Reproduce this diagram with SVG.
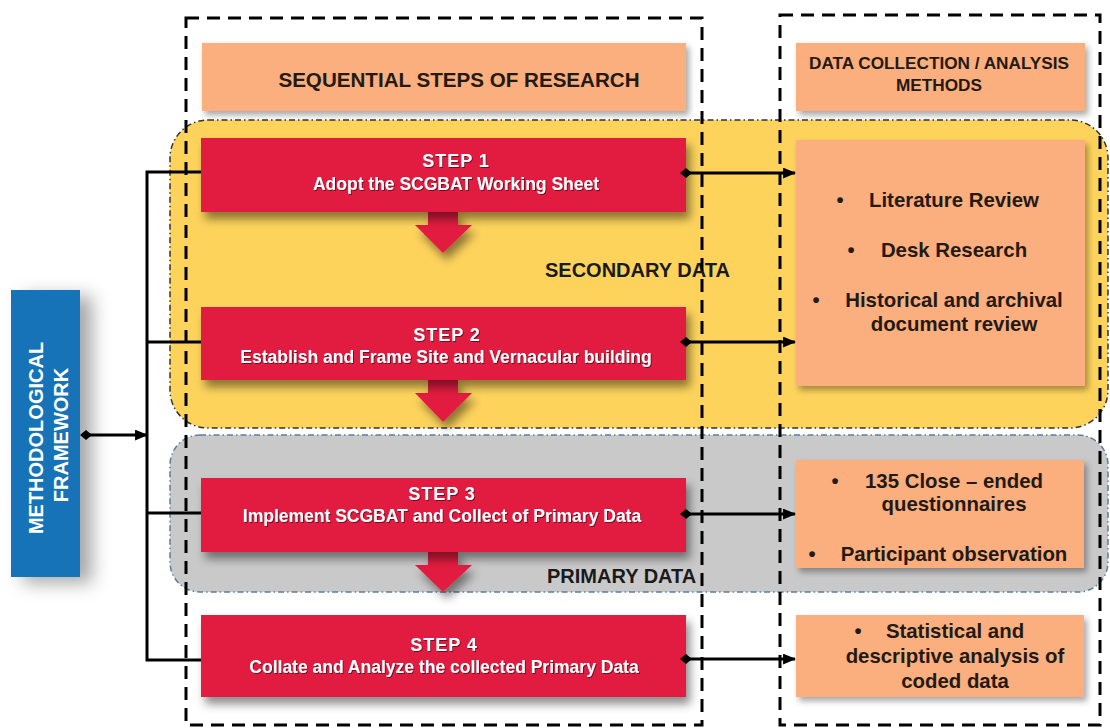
<svg xmlns="http://www.w3.org/2000/svg" width="1110" height="728" viewBox="0 0 1110 728">
<defs>
<style>
.step{fill:#E21D40;filter:url(#sh)}
.hdr{fill:#FBAE7E;filter:url(#sh2)}
.meth{fill:#FBAE7E;filter:url(#sh2)}
.st{font-family:"Liberation Sans",Arial,sans-serif;font-weight:bold;fill:#fff;text-anchor:middle;filter:url(#tsh)}
.sn{font-size:18px;letter-spacing:1px}
.ss{font-size:17.5px}
.dk{font-family:"Liberation Sans",Arial,sans-serif;font-weight:bold;fill:#231A14;text-anchor:middle;font-size:20.4px}
.lbl{font-family:"Liberation Sans",Arial,sans-serif;font-weight:bold;fill:#1a1a1a;font-size:20px}
.col{fill:none;stroke:#000;stroke-width:3;stroke-dasharray:13 8}
.con{fill:none;stroke:#000;stroke-width:3}
.dn{fill:#E21D40;filter:url(#sh)}
</style>
<filter id="sh" x="-10%" y="-20%" width="125%" height="160%"><feDropShadow dx="4" dy="7" stdDeviation="5" flood-color="#000" flood-opacity="0.45"/></filter>
<filter id="sh2" x="-10%" y="-20%" width="125%" height="160%"><feDropShadow dx="3" dy="4" stdDeviation="3" flood-color="#000" flood-opacity="0.35"/></filter>
<filter id="shb" x="-50%" y="-10%" width="250%" height="130%"><feDropShadow dx="12" dy="6" stdDeviation="9" flood-color="#000" flood-opacity="0.35"/></filter>
<filter id="tsh" x="-5%" y="-30%" width="110%" height="160%"><feDropShadow dx="1" dy="1" stdDeviation="0.6" flood-color="#000" flood-opacity="0.5"/></filter>
<marker id="dia" viewBox="0 0 12 12" refX="6" refY="6" markerWidth="12" markerHeight="12" markerUnits="userSpaceOnUse" orient="auto"><path d="M0 6 L6 1 L12 6 L6 11 Z" fill="#000"/></marker>
<marker id="arr" viewBox="0 0 12 10" refX="11" refY="5" markerWidth="13" markerHeight="11" markerUnits="userSpaceOnUse" orient="auto"><path d="M0 0 L12 5 L0 10 Z" fill="#000"/></marker>
</defs>
<rect width="1110" height="728" fill="#fff"/>

<g id="secondary-region">
<rect x="170" y="120" width="938" height="308" rx="38" ry="38" fill="#FDD35C" stroke="#333" stroke-width="1.5" stroke-dasharray="6 3 1.5 3"/>
</g>
<g id="primary-region">
<rect x="170" y="435" width="938" height="157" rx="30" ry="30" fill="#C9C9C9" stroke="#5A7FA0" stroke-width="1.5" stroke-dasharray="6 3 1.5 3"/>
</g>

<g id="framework">
<rect x="11" y="290" width="69" height="287" fill="#1573B8" filter="url(#shb)"/>
<text class="st" style="font-size:20px;filter:none" transform="translate(43,438) rotate(-90)">METHODOLOGICAL</text>
<text class="st" style="font-size:20px;filter:none" transform="translate(68,435) rotate(-90)">FRAMEWORK</text>
</g>

<g id="header-steps">
<rect class="hdr" x="202" y="43" width="484" height="68"/>
<text class="dk" style="font-size:20.6px" x="459" y="87">SEQUENTIAL STEPS OF RESEARCH</text>
</g>
<g id="header-methods">
<rect class="hdr" x="796" y="43" width="289" height="68"/>
<text class="dk" style="font-size:17.2px" x="939" y="69">DATA COLLECTION / ANALYSIS</text>
<text class="dk" style="font-size:17.2px" x="939" y="91">METHODS</text>
</g>

<g id="arrows-down">
<path class="dn" d="M428 211 H458 V225 H472 L443 253 L415 225 H428 Z"/>
<path class="dn" d="M428 379 H458 V393 H472 L443 422 L415 393 H428 Z"/>
<path class="dn" d="M428 551 H458 V565 H472 L443 592 L415 565 H428 Z"/>
</g>

<g id="step1">
<rect class="step" x="201" y="138" width="485" height="74"/>
<text class="st sn" x="456" y="167">STEP 1</text>
<text class="st ss" x="456" y="190">Adopt the SCGBAT Working Sheet</text>
</g>
<g id="step2">
<rect class="step" x="201" y="307" width="485" height="73"/>
<text class="st sn" x="447" y="341">STEP 2</text>
<text class="st ss" x="446" y="363">Establish and Frame Site and Vernacular building</text>
</g>
<g id="step3">
<rect class="step" x="201" y="478" width="485" height="74"/>
<text class="st sn" x="442" y="500">STEP 3</text>
<text class="st ss" x="442" y="522">Implement SCGBAT and Collect of Primary Data</text>
</g>
<g id="step4">
<rect class="step" x="201" y="615" width="485" height="82"/>
<text class="st sn" x="444" y="651">STEP 4</text>
<text class="st ss" x="444" y="673">Collate and Analyze the collected Primary Data</text>
</g>

<g id="methods1">
<rect class="meth" x="796" y="140" width="289" height="246"/>
<text class="dk" x="840" y="207">•</text>
<text class="dk" x="954" y="207">Literature Review</text>
<text class="dk" x="851" y="257">•</text>
<text class="dk" x="954" y="257">Desk Research</text>
<text class="dk" x="816" y="307">•</text>
<text class="dk" x="954" y="307">Historical and archival</text>
<text class="dk" x="954" y="331">document review</text>
</g>
<g id="methods2">
<rect class="meth" x="796" y="460" width="288" height="108"/>
<text class="dk" x="835" y="488">•</text>
<text class="dk" x="954" y="488">135 Close – ended</text>
<text class="dk" x="954" y="511">questionnaires</text>
<text class="dk" x="812" y="561">•</text>
<text class="dk" x="954" y="561">Participant observation</text>
</g>
<g id="methods3">
<rect class="meth" x="796" y="615" width="288" height="82"/>
<text class="dk" x="858" y="638">•</text>
<text class="dk" x="955" y="638">Statistical and</text>
<text class="dk" x="955" y="663">descriptive analysis of</text>
<text class="dk" x="955" y="688">coded data</text>
</g>

<g id="labels">
<text class="lbl" x="545" y="277">SECONDARY DATA</text>
<text class="lbl" x="547" y="583">PRIMARY DATA</text>
</g>

<g id="columns">
<rect class="col" x="186" y="18" width="516" height="707"/>
<rect class="col" x="780" y="15" width="320" height="710"/>
</g>

<g id="connectors">
<line class="con" x1="86" y1="435" x2="147" y2="435" marker-start="url(#dia)" marker-end="url(#arr)"/>
<path class="con" d="M201 172 H147 V660 H201"/>
<line class="con" x1="147" y1="342" x2="201" y2="342"/>
<line class="con" x1="147" y1="513" x2="201" y2="513"/>
<line class="con" x1="686" y1="173" x2="795" y2="173" marker-start="url(#dia)" marker-end="url(#arr)"/>
<line class="con" x1="686" y1="342" x2="795" y2="342" marker-start="url(#dia)" marker-end="url(#arr)"/>
<line class="con" x1="686" y1="514" x2="795" y2="514" marker-start="url(#dia)" marker-end="url(#arr)"/>
<line class="con" x1="686" y1="659" x2="795" y2="659" marker-start="url(#dia)" marker-end="url(#arr)"/>
</g>
</svg>
